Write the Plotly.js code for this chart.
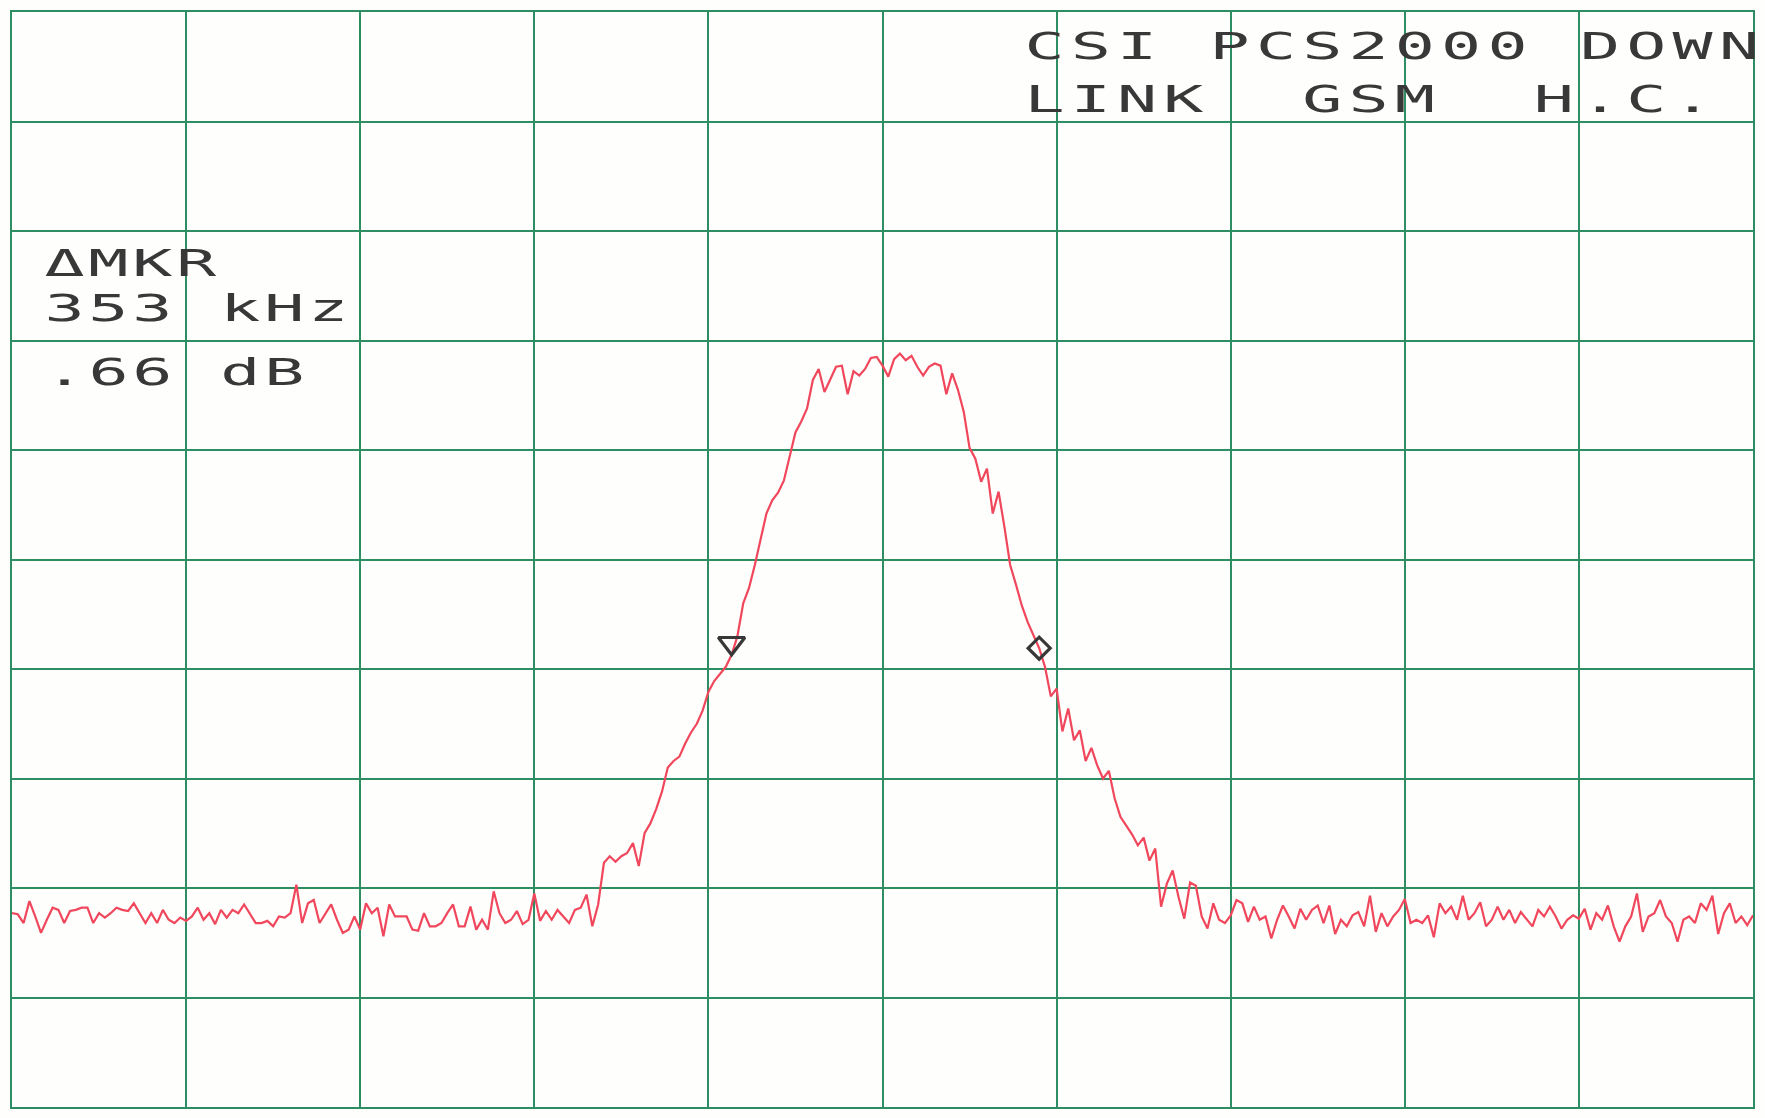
<!DOCTYPE html>
<html>
<head>
<meta charset="utf-8">
<script src="https://cdn.plot.ly/plotly-3.0.1.min.js"></script>
<style>
html,body{margin:0;padding:0;background:#fefefc;}
#chart{width:1765px;height:1118px;}
</style>
</head>
<body>
<div id="chart"></div>
<script>
// ---- data ----
const startKHz = -1000;   // span 2 MHz, 200 kHz/div
const stopKHz = 1000;
const refLevelDb = 0;     // 10 dB/div
const bottomDb = -100;

const levelDb = [
 -82.3,-82.4,-83.2,-81.2,-82.6,-84.1,-82.9,-81.8,-82.0,-83.2,
 -82.1,-82.0,-81.8,-81.8,-83.2,-82.3,-82.7,-82.3,-81.8,-82.0,
 -82.1,-81.4,-82.3,-83.2,-82.3,-83.2,-82.0,-82.9,-83.2,-82.7,
 -83.0,-82.6,-81.8,-82.9,-82.3,-83.3,-82.0,-82.7,-82.0,-82.3,
 -81.5,-82.3,-83.2,-83.2,-83.0,-83.5,-82.6,-82.7,-82.3,-79.7,
 -83.2,-81.4,-81.1,-83.2,-82.3,-81.5,-82.9,-84.1,-83.8,-82.6,
 -83.8,-81.4,-82.3,-81.8,-84.4,-81.5,-82.6,-82.6,-82.6,-83.8,
 -83.9,-82.3,-83.5,-83.5,-83.2,-82.3,-81.5,-83.5,-83.5,-81.7,
 -83.8,-82.9,-83.8,-80.3,-82.3,-83.2,-82.9,-82.1,-83.3,-82.9,
 -80.5,-83.0,-82.1,-82.9,-82.0,-82.6,-83.2,-82.0,-81.8,-80.6,
 -83.5,-81.5,-77.7,-77.1,-77.6,-77.1,-76.8,-75.9,-78.0,-75.0,
 -74.1,-72.8,-71.2,-69.0,-68.4,-68.0,-66.8,-65.8,-65.0,-63.8,
 -62.1,-61.1,-60.4,-59.8,-58.7,-57.0,-54.0,-52.6,-50.5,-48.0,
 -45.8,-44.6,-43.9,-42.8,-40.5,-38.4,-37.4,-36.2,-33.6,-32.6,
 -34.7,-33.5,-32.4,-32.3,-34.9,-32.8,-33.2,-32.6,-31.6,-31.5,
 -32.3,-33.3,-31.7,-31.2,-31.8,-31.4,-32.4,-33.2,-32.4,-32.1,
 -32.3,-34.9,-33.0,-34.5,-36.5,-39.8,-40.8,-42.9,-41.7,-45.8,
 -43.8,-47.0,-50.5,-52.3,-54.2,-55.7,-56.9,-58.1,-59.8,-62.5,
 -61.8,-65.7,-63.6,-66.5,-65.6,-68.4,-67.2,-68.8,-70.0,-69.3,
 -71.8,-73.5,-74.3,-75.1,-76.1,-75.4,-77.5,-76.4,-81.7,-79.6,
 -78.4,-80.8,-82.8,-79.5,-79.8,-82.6,-83.7,-81.4,-82.9,-83.2,
 -82.5,-81.1,-81.4,-83.1,-81.7,-82.9,-82.6,-84.6,-82.9,-81.6,
 -82.6,-83.7,-81.9,-82.9,-82.0,-81.6,-83.2,-81.6,-84.2,-82.9,
 -83.5,-82.5,-82.2,-83.5,-80.7,-84.0,-82.3,-83.5,-82.6,-82.0,
 -81.0,-83.2,-82.9,-83.2,-82.5,-84.5,-81.4,-82.3,-81.7,-82.9,
 -80.7,-82.9,-82.3,-81.3,-83.5,-82.9,-81.7,-82.9,-82.0,-83.2,
 -82.2,-82.9,-83.5,-82.0,-82.6,-81.7,-82.6,-83.7,-82.9,
 -82.5,-82.8,-81.9,-83.8,-82.3,-82.9,-81.6,-83.5,-84.9,-83.5,
 -82.6,-80.5,-84.0,-82.6,-82.3,-81.1,-82.6,-83.2,-84.9,-82.9,
 -82.6,-83.2,-81.4,-82.0,-80.7,-84.2,-82.3,-81.4,-83.2,-82.6,
 -83.4,-82.5
];

const refMarkerIdx = 124;    // triangle (reference marker)
const deltaMarkerIdx = 177;  // diamond (active marker)

const headerLines = ["CSI PCS2000 DOWN", "LINK  GSM  H.C."];
const readoutLines = ["\u0394MKR", "353 kHz", ".66 dB"];

// ---- layout constants ----
const W = 1765, H = 1118;
const M = {l: 12, r: 12, t: 12, b: 11};
const PW = W - M.l - M.r, PH = H - M.t - M.b;
const gridColor = '#2e8d62';
const traceColor = '#f0475c';
const inkColor = '#383838';
const fontSize = 37;
const glyphAdvance = 0.602 * fontSize;   // DejaVu Sans Mono advance
const glyphStretch = 1.8;                // plotter glyphs are wide

const step = (stopKHz - startKHz) / (levelDb.length - 1);
const freqKHz = levelDb.map((_, i) => startKHz + i * step);

const pxPerDb = PH / (refLevelDb - bottomDb);
const triSize = 23;
const triTipOffsetDb = (triSize / 2) / pxPerDb;

const traces = [
  {x: freqKHz, y: levelDb, type: 'scatter', mode: 'lines',
   line: {color: traceColor, width: 2.2}, hoverinfo: 'skip'},
  {x: [freqKHz[refMarkerIdx]], y: [levelDb[refMarkerIdx] + triTipOffsetDb],
   type: 'scatter', mode: 'markers',
   marker: {symbol: 'triangle-down-open', size: triSize, color: inkColor, line: {width: 3.2, color: inkColor}}},
  {x: [freqKHz[deltaMarkerIdx]], y: [levelDb[deltaMarkerIdx]],
   type: 'scatter', mode: 'markers',
   marker: {symbol: 'diamond-open', size: 17, color: inkColor, line: {width: 3.2, color: inkColor}}}
];

// text blocks: left ink edge px, cap-centre px, character pitch px
const textSpecs = [
  {text: headerLines[0], left: 1027, cy: 46, pitch: 46.3},
  {text: headerLines[1], left: 1027, cy: 99, pitch: 46.3},
  {text: readoutLines[0], left: 47, cy: 264, pitch: 44},
  {text: readoutLines[1], left: 47, cy: 308.5, pitch: 44},
  {text: readoutLines[2], left: 47, cy: 372, pitch: 44}
];

const annotations = textSpecs.map(s => {
  const n = [...s.text].length;
  const cx = s.left + n * s.pitch / 2;
  return {
    xref: 'paper', yref: 'paper',
    x: Math.min(0.9, (cx - M.l) / PW), y: 1 - (s.cy - M.t) / PH,
    xanchor: 'center', yanchor: 'middle',
    text: s.text.replace(/ /g, '\u00A0'),
    showarrow: false, borderpad: 0,
    font: {family: 'DejaVu Sans Mono', size: fontSize, color: inkColor}
  };
});

const axisCommon = {
  showticklabels: false, ticks: '', zeroline: false,
  showgrid: true, gridcolor: gridColor, gridwidth: 2,
  showline: true, mirror: true, linecolor: gridColor, linewidth: 2
};

const layout = {
  width: W, height: H,
  margin: M,
  paper_bgcolor: '#fefefc', plot_bgcolor: '#fefefc',
  showlegend: false,
  xaxis: Object.assign({range: [startKHz, stopKHz], dtick: 200, tick0: startKHz}, axisCommon),
  yaxis: Object.assign({range: [bottomDb, refLevelDb], dtick: 10, tick0: bottomDb}, axisCommon),
  annotations: annotations
};

// Plotter lettering: fixed-pitch, wide glyphs starting at a given left edge.
function widenText(gd) {
  const svgRect = gd.querySelector('svg.main-svg').getBoundingClientRect();
  gd.querySelectorAll('.annotation').forEach(g => {
    const idx = +g.getAttribute('data-index');
    const spec = textSpecs[idx];
    const t = g.querySelector('text.annotation-text');
    if (!spec || !t) return;
    const spacing = spec.pitch / glyphStretch - glyphAdvance;
    t.style.letterSpacing = spacing.toFixed(2) + 'px';
    t.removeAttribute('transform');
    const bb = t.getBBox();                     // local frame of the text
    const pm = t.parentNode.getScreenCTM();     // parent frame -> screen
    const parentX = spec.left + svgRect.left - pm.e;  // wanted left, in parent frame
    const s = glyphStretch;
    const tx = parentX - s * (bb.x + 0.04 * fontSize);
    t.setAttribute('transform', 'matrix(' + s + ',0,0,1,' + tx.toFixed(2) + ',0)');
  });
}

Plotly.newPlot('chart', traces, layout, {displayModeBar: false, staticPlot: true}).then(widenText);
</script>
</body>
</html>
